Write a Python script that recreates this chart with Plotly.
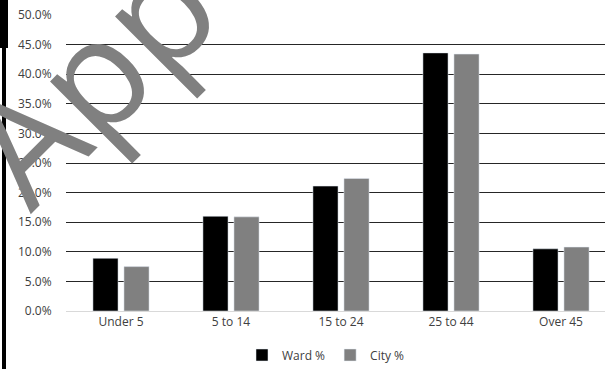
import plotly.graph_objects as go

categories = ["Under 5", "5 to 14", "15 to 24", "25 to 44", "Over 45"]
ward_pct = [8.9, 16.0, 21.1, 43.6, 10.5]
city_pct = [7.5, 15.9, 22.4, 43.4, 10.8]
y_ticks = [0, 5, 10, 15, 20, 25, 30, 35, 40, 45, 50]
y_tick_labels = [f"{v:.1f}%" for v in y_ticks]

W, H = 605, 369
L, R, T, B = 66, 0, 15, 58
pw = W - L - R
ph = H - T - B

def px_x(p):
    return (p - L) / pw

def px_y(p):
    return (H - B - p) / ph

fig = go.Figure()
fig.add_trace(go.Bar(name="Ward %", x=categories, y=ward_pct, marker=dict(color="#000000")))
fig.add_trace(go.Bar(name="City %", x=categories, y=city_pct, marker=dict(color="#808080")))

font = "Open Sans, DejaVu Sans, sans-serif"
fig.update_layout(
    width=W, height=H,
    margin=dict(l=L, r=R, t=T, b=B, pad=0, autoexpand=False),
    paper_bgcolor="white", plot_bgcolor="white",
    barmode="group", bargap=0.436, bargroupgap=0.19,
    font=dict(family=font, size=12, color="#404040"),
    showlegend=True,
    legend=dict(orientation="h", x=px_x(326), xanchor="center", y=px_y(355), yanchor="middle",
                font=dict(size=12, color="#404040"), itemwidth=30, traceorder="normal"),
    xaxis=dict(range=[-0.5, -0.5 + pw / 110.0], showgrid=False, showline=True,
               linecolor="#d9d9d9", linewidth=1, ticks="", tickfont=dict(size=12),
               fixedrange=True),
    yaxis=dict(range=[0, 50], tickvals=y_ticks, ticktext=y_tick_labels,
               showgrid=True, gridcolor="#262626", gridwidth=1, zeroline=False,
               showline=False, ticks="outside", ticklen=11, tickcolor="rgba(0,0,0,0)",
               tickfont=dict(size=12)),
)

# left-edge black decoration
fig.add_shape(type="rect", xref="paper", yref="paper",
              x0=px_x(0), x1=px_x(8), y0=px_y(48), y1=px_y(-2),
              fillcolor="black", line=dict(width=0), layer="above")
fig.add_shape(type="rect", xref="paper", yref="paper",
              x0=px_x(2), x1=px_x(6), y0=px_y(371), y1=px_y(48),
              fillcolor="black", line=dict(width=0), layer="above")

# watermark
fig.add_annotation(text="App", xref="paper", yref="paper",
                   x=px_x(88), y=px_y(75), xanchor="center", yanchor="middle",
                   showarrow=False, textangle=-45,
                   font=dict(family="Open Sans, sans-serif", size=150, color="#808080"))

fig.write_html("out.html", config={"displayModeBar": False},
               post_script="document.body.style.margin='0';document.body.style.overflow='hidden';")
